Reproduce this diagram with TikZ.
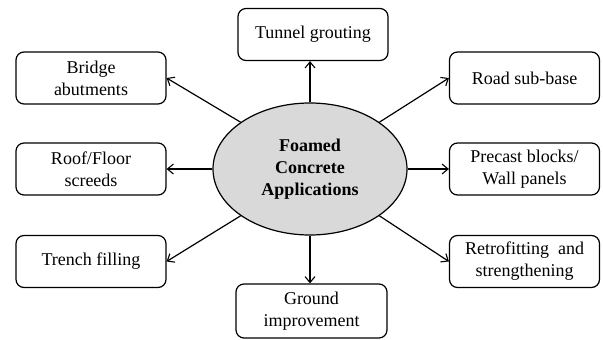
\documentclass[tikz,border=0pt]{standalone}
\usepackage{fontspec}
\setmainfont{Liberation Serif}
\usetikzlibrary{shapes.geometric,arrows.meta}
\definecolor{ellfill}{HTML}{D9D9D9}
\begin{document}
\begin{tikzpicture}[x=1pt,y=-1pt,
  appbox/.style={draw,line width=1.2pt,rounded corners=8pt,minimum width=150pt,minimum height=52pt,
    align=center,inner sep=0pt,font=\fontsize{18}{22}\selectfont},
  hub/.style={draw,line width=1.2pt,ellipse,fill=ellfill,minimum width=194pt,minimum height=132pt,
    inner sep=0pt,align=center,font=\fontsize{18}{22}\selectfont\bfseries},
  link/.style={line width=1.2pt,-{Straight Barb[length=6pt,width=10pt,line width=1.1pt]}}]
\useasboundingbox (0,0) rectangle (603,340);
\node[hub] (ell) at (310,169) {Foamed\\Concrete\\Applications};
\node[appbox] (tunnel) at (313,34.5) {Tunnel grouting};
\node[appbox] (bridge) at (91,78) {Bridge\\abutments};
\node[appbox] (road) at (524.5,78) {Road sub-base};
\node[appbox] (roof) at (91,169) {Roof/Floor\\screeds};
\node[appbox] (precast) at (524.5,169) {Precast blocks/\\Wall panels};
\node[appbox] (trench) at (91,261.5) {Trench filling};
\node[appbox] (retro) at (524.5,261.5) {Retrofitting\ \ and\\strengthening};
\node[appbox,minimum width=151pt,minimum height=54pt] (ground) at (311.5,311) {Ground\\improvement};
\draw[link] (ell.north) -- (ell.north |- tunnel.south);
\draw[link] (ell.south) -- (ell.south |- ground.north);
\draw[link] (ell.west) -- (roof.east);
\draw[link] (ell.east) -- (precast.west);
\draw[link] (ell.146) -- (bridge.east);
\draw[link] (ell.34) -- (road.west);
\draw[link] (ell.214) -- (trench.east);
\draw[link] (ell.326) -- (retro.west);
\end{tikzpicture}
\end{document}
